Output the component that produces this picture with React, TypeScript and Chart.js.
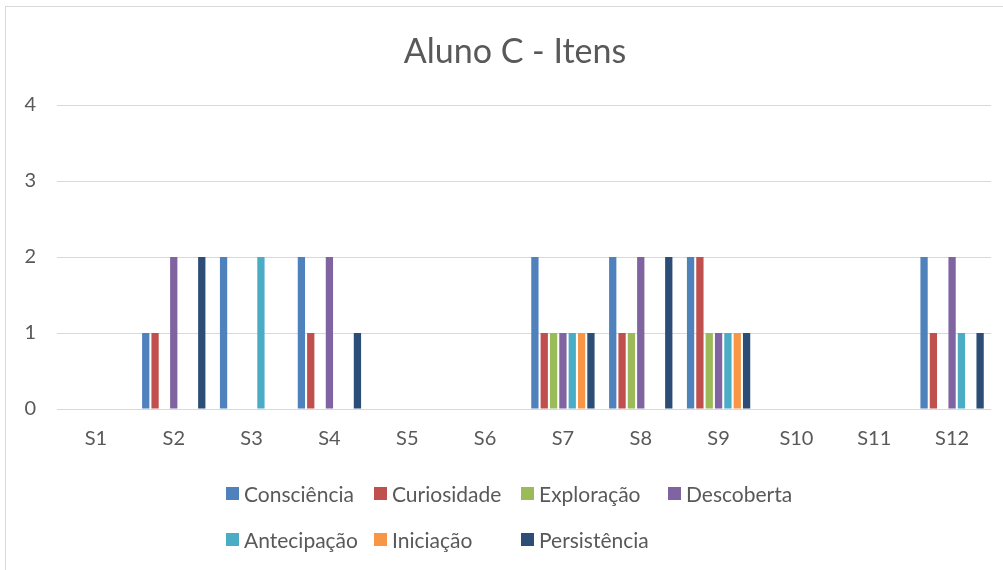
import React, { useEffect, useRef } from "react";
import { Chart, registerables } from "chart.js";

Chart.register(...registerables);

const categories = ["S1", "S2", "S3", "S4", "S5", "S6", "S7", "S8", "S9", "S10", "S11", "S12"];
const seriesNames = ["Consciência", "Curiosidade", "Exploração", "Descoberta", "Antecipação", "Iniciação", "Persistência"];
const seriesColors = ["#4F81BD", "#C0504D", "#9BBB59", "#8064A2", "#4BACC6", "#F79646", "#2C4D75"];

const consciencia = [0, 1, 2, 2, 0, 0, 2, 2, 2, 0, 0, 2];
const curiosidade = [0, 1, 0, 1, 0, 0, 1, 1, 2, 0, 0, 1];
const exploracao = [0, 0, 0, 0, 0, 0, 1, 1, 1, 0, 0, 0];
const descoberta = [0, 2, 0, 2, 0, 0, 1, 2, 1, 0, 0, 2];
const antecipacao = [0, 0, 2, 0, 0, 0, 1, 0, 1, 0, 0, 1];
const iniciacao = [0, 0, 0, 0, 0, 0, 1, 0, 1, 0, 0, 0];
const persistencia = [0, 2, 0, 1, 0, 0, 1, 2, 1, 0, 0, 1];

const seriesValues = [consciencia, curiosidade, exploracao, descoberta, antecipacao, iniciacao, persistencia];
const yTicks = [0, 1, 2, 3, 4];
const titleText = "Aluno C - Itens";

const FONT = "Lato, 'Open Sans', sans-serif";
const TEXT = "#595959";

const legendLayout: { row: number; left: number }[] = [
  { row: 0, left: 226 },
  { row: 0, left: 374 },
  { row: 0, left: 521 },
  { row: 0, left: 668 },
  { row: 1, left: 226 },
  { row: 1, left: 374 },
  { row: 1, left: 521 },
];

export default function App() {
  const ref = useRef<HTMLCanvasElement | null>(null);

  useEffect(() => {
    document.body.style.margin = "0";
    const ctx = ref.current;
    if (!ctx) return;
    const chart = new Chart(ctx, {
      type: "bar",
      data: {
        labels: categories,
        datasets: seriesNames.map((name, i) => ({
          label: name,
          data: seriesValues[i],
          backgroundColor: seriesColors[i],
          borderWidth: 0,
          categoryPercentage: 0.84,
          barPercentage: 0.78,
        })),
      },
      options: {
        animation: false,
        responsive: false,
        maintainAspectRatio: false,
        layout: { padding: { left: 0, right: 12, top: 105, bottom: 116 } },
        plugins: {
          legend: { display: false },
          tooltip: { enabled: false },
          title: { display: false },
        },
        scales: {
          x: {
            grid: { display: false },
            border: { display: false },
            ticks: { color: TEXT, font: { family: FONT, size: 20 }, padding: 10, maxRotation: 0 },
            afterFit: (s: any) => {
              s.height = 45;
            },
          },
          y: {
            min: 0,
            max: 4,
            afterBuildTicks: (s: any) => {
              s.ticks = yTicks.map((v) => ({ value: v }));
            },
            grid: { color: "#D9D9D9", lineWidth: 1, drawTicks: false },
            border: { display: false },
            ticks: { color: TEXT, font: { family: FONT, size: 20 }, padding: 21 },
            afterFit: (s: any) => {
              s.width = 57;
            },
          },
        },
      },
    });
    return () => chart.destroy();
  }, []);

  return (
    <div style={{ position: "fixed", left: 0, top: 0, width: 1003, height: 570, background: "#fff", overflow: "hidden" }}>
      <div
        style={{
          position: "absolute",
          left: 5,
          top: 6,
          width: 1100,
          height: 700,
          borderLeft: "1px solid #D9D9D9",
          borderTop: "1px solid #D9D9D9",
        }}
      />
      <canvas ref={ref} width={1003} height={570} style={{ position: "absolute", left: 0, top: 0 }} />
      <div
        style={{
          position: "absolute",
          left: 315,
          width: 400,
          top: 29,
          height: 42,
          lineHeight: "42px",
          textAlign: "center",
          fontFamily: FONT,
          fontSize: 34,
          color: TEXT,
          whiteSpace: "nowrap",
        }}
      >
        {titleText}
      </div>
      {seriesNames.map((name, i) => (
        <div
          key={name}
          style={{
            position: "absolute",
            left: legendLayout[i].left,
            top: legendLayout[i].row === 0 ? 479 : 525,
            height: 28,
            display: "flex",
            alignItems: "center",
            fontFamily: FONT,
            fontSize: 21,
            color: TEXT,
            whiteSpace: "nowrap",
          }}
        >
          <span style={{ display: "inline-block", width: 13, height: 13, background: seriesColors[i], marginRight: 5 }} />
          <span>{name}</span>
        </div>
      ))}
    </div>
  );
}
